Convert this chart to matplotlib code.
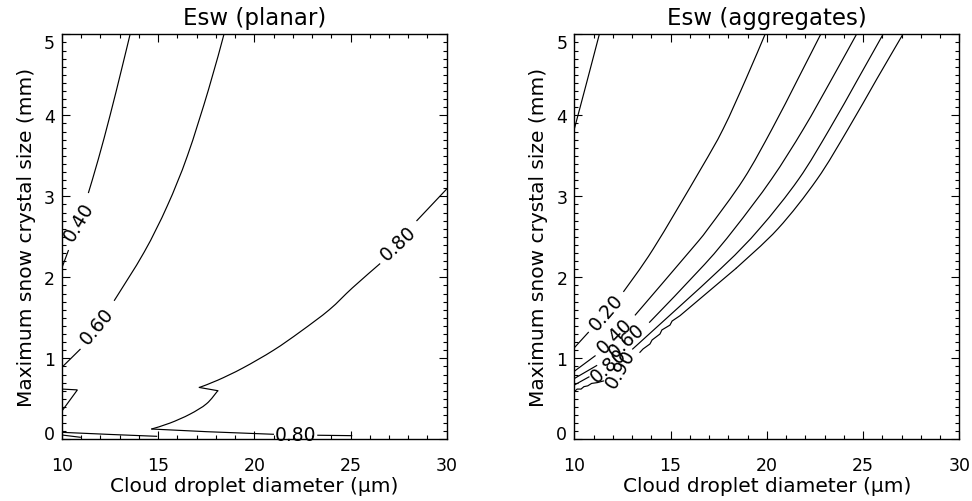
import matplotlib
matplotlib.use("Agg")
import matplotlib.pyplot as plt
from matplotlib.ticker import MultipleLocator
from matplotlib.path import Path
from matplotlib.patches import PathPatch

plt.rcParams['font.family'] = ['DejaVu Sans']

# ---------------- Left panel: Esw (planar) ----------------
planar_040_upper_x = [13.54, 13.10, 12.50, 11.89, 11.37]
planar_040_upper_y = [5.00, 4.57, 4.00, 3.46, 3.04]
planar_040_lower_x = [10.33, 10.00]
planar_040_lower_y = [2.33, 2.12]

planar_060_upper_x = [18.42, 17.62, 16.52, 15.47, 14.27, 12.71]
planar_060_upper_y = [5.00, 4.32, 3.50, 2.88, 2.31, 1.71]
planar_060_lower_x = [10.94, 10.00]
planar_060_lower_y = [1.11, 0.89]
planar_060_loop_x = [10.00, 10.80, 10.00]
planar_060_loop_y = [0.62, 0.61, 0.35]

planar_080_upper_x = [30.00, 28.45]
planar_080_upper_y = [3.09, 2.70]
planar_080_main_x = [26.54, 25.10, 23.90, 22.40, 21.00, 19.40, 18.10, 17.14]
planar_080_main_y = [2.17, 1.87, 1.60, 1.33, 1.10, 0.88, 0.73, 0.64]
planar_080_notch_x = [17.14, 18.10]
planar_080_notch_y = [0.64, 0.60]
planar_080_drop_x = [18.10, 17.52, 16.65, 15.61, 14.66]
planar_080_drop_y = [0.60, 0.44, 0.31, 0.20, 0.127]
planar_080_floor_x = [14.66, 17.52, 20.99]
planar_080_floor_y = [0.127, 0.094, 0.062]
planar_080_tail_x = [23.30, 25.06]
planar_080_tail_y = [0.050, 0.045]
planar_080_base_x = [10.00, 12.50, 14.92]
planar_080_base_y = [0.086, 0.060, 0.037]
planar_080_edge_x = [10.00, 10.95]
planar_080_edge_y = [0.053, 0.025]

planar_label_text = ["0.40", "0.60", "0.80", "0.80"]
planar_label_x = [10.85, 11.80, 27.49, 22.12]
planar_label_y = [2.69, 1.41, 2.42, 0.065]
planar_label_rot = [59, 50, 43, 0]

# ---------------- Right panel: Esw (aggregates) ----------------
agg_010_x = [11.30, 10.66, 10.00]
agg_010_y = [5.00, 4.42, 3.83]

agg_020_upper_x = [19.91, 18.92, 17.73, 16.53, 14.10, 12.55]
agg_020_upper_y = [5.00, 4.45, 3.83, 3.32, 2.35, 1.82]
agg_020_lower_x = [10.73, 10.00]
agg_020_lower_y = [1.32, 1.13]

agg_040_upper_x = [22.80, 21.62, 20.27, 18.79, 16.95, 16.10, 13.15]
agg_040_upper_y = [5.00, 4.45, 3.83, 3.21, 2.60, 2.35, 1.53]
agg_040_lower_x = [11.08, 10.00]
agg_040_lower_y = [1.03, 0.84]

agg_060_upper_x = [24.66, 23.38, 21.90, 20.24, 18.32, 16.77, 13.89]
agg_060_upper_y = [5.00, 4.45, 3.83, 3.21, 2.60, 2.16, 1.44]
agg_060_lower_x = [11.16, 10.00]
agg_060_lower_y = [0.91, 0.75]

agg_080_upper_x = [26.04, 24.74, 23.26, 21.65, 19.62, 17.62, 13.01]
agg_080_upper_y = [5.00, 4.45, 3.83, 3.21, 2.60, 2.11, 1.11]
agg_080_lower_x = [10.76, 10.00]
agg_080_lower_y = [0.77, 0.67]

agg_090_upper_x = [27.07, 25.72, 24.22, 22.61, 20.58, 18.40]
agg_090_upper_y = [5.00, 4.45, 3.83, 3.21, 2.60, 2.11]
agg_090_rough_x = [18.40, 15.49, 15.08, 14.97, 14.55, 14.45, 14.04, 13.93, 13.57, 13.41]
agg_090_rough_y = [2.11, 1.526, 1.46, 1.41, 1.35, 1.30, 1.226, 1.177, 1.115, 1.074]
agg_090_lower_x = [11.51, 11.20, 10.90, 10.70, 10.50, 10.35, 10.15, 10.00]
agg_090_lower_y = [0.72, 0.70, 0.69, 0.66, 0.65, 0.62, 0.62, 0.59]

agg_label_text = ["0.20", "0.40", "0.60", "0.80", "0.90"]
agg_label_x = [11.64, 12.11, 12.70, 11.77, 12.40]
agg_label_y = [1.57, 1.28, 1.22, 0.92, 0.88]
agg_label_rot = [49, 45, 42, 42, 60]

# (x, y, drawn as smooth curve?)
planar_segments = [
    (planar_040_upper_x, planar_040_upper_y, True),
    (planar_040_lower_x, planar_040_lower_y, False),
    (planar_060_upper_x, planar_060_upper_y, True),
    (planar_060_lower_x, planar_060_lower_y, False),
    (planar_060_loop_x, planar_060_loop_y, False),
    (planar_080_upper_x, planar_080_upper_y, False),
    (planar_080_main_x, planar_080_main_y, True),
    (planar_080_notch_x, planar_080_notch_y, False),
    (planar_080_drop_x, planar_080_drop_y, True),
    (planar_080_floor_x, planar_080_floor_y, False),
    (planar_080_tail_x, planar_080_tail_y, False),
    (planar_080_base_x, planar_080_base_y, False),
    (planar_080_edge_x, planar_080_edge_y, False),
]
agg_segments = [
    (agg_010_x, agg_010_y, True),
    (agg_020_upper_x, agg_020_upper_y, True), (agg_020_lower_x, agg_020_lower_y, False),
    (agg_040_upper_x, agg_040_upper_y, True), (agg_040_lower_x, agg_040_lower_y, False),
    (agg_060_upper_x, agg_060_upper_y, True), (agg_060_lower_x, agg_060_lower_y, False),
    (agg_080_upper_x, agg_080_upper_y, True), (agg_080_lower_x, agg_080_lower_y, False),
    (agg_090_upper_x, agg_090_upper_y, True), (agg_090_rough_x, agg_090_rough_y, False),
    (agg_090_lower_x, agg_090_lower_y, False),
]


def curve_path(xs, ys):
    """Catmull-Rom curve through the given points, as cubic Bezier path."""
    pts = list(zip(xs, ys))
    n = len(pts)
    verts = [pts[0]]
    codes = [Path.MOVETO]
    for i in range(n - 1):
        p0 = pts[i - 1] if i > 0 else pts[i]
        p1 = pts[i]
        p2 = pts[i + 1]
        p3 = pts[i + 2] if i + 2 < n else pts[i + 1]
        c1 = (p1[0] + (p2[0] - p0[0]) / 6.0, p1[1] + (p2[1] - p0[1]) / 6.0)
        c2 = (p2[0] - (p3[0] - p1[0]) / 6.0, p2[1] - (p3[1] - p1[1]) / 6.0)
        verts += [c1, c2, p2]
        codes += [Path.CURVE4] * 3
    return Path(verts, codes)


fig = plt.figure(figsize=(9.72, 5.02), dpi=100)
ax1 = fig.add_axes([62 / 972, 1 - 440.3 / 502, 384.7 / 972, 405 / 502])
ax2 = fig.add_axes([574.3 / 972, 1 - 440.3 / 502, 385 / 972, 405 / 502])

TICK_FS = 12.5
LABEL_FS = 14.5
CLABEL_FS = 13.5
LW = 0.85


def style_axes(ax, title):
    ax.set_xlim(10, 30)
    ax.set_ylim(0, 5)
    ax.xaxis.set_major_locator(MultipleLocator(5))
    ax.xaxis.set_minor_locator(MultipleLocator(1))
    ax.yaxis.set_major_locator(MultipleLocator(1))
    ax.yaxis.set_minor_locator(MultipleLocator(0.1))
    ax.tick_params(which='both', direction='in', top=True, right=True,
                   width=0.8, colors='black')
    ax.tick_params(which='major', length=5.8)
    ax.tick_params(which='minor', length=2.9)
    ax.tick_params(axis='x', which='major', pad=12, labelsize=TICK_FS)
    ax.tick_params(axis='y', which='major', pad=5, labelsize=TICK_FS)
    for s in ax.spines.values():
        s.set_linewidth(1.0)
    ax.set_title(title, fontsize=16.5, pad=7.2)
    ax.set_xlabel("Cloud droplet diameter (μm)", fontsize=LABEL_FS)
    ax.set_ylabel("Maximum snow crystal size (mm)", fontsize=LABEL_FS)
    ax.xaxis.label.set_va('baseline')
    ax.yaxis.label.set_va('baseline')
    ax.xaxis.set_label_coords(0.5, -0.128)
    ax.yaxis.set_label_coords(-0.079, 0.5)


for ax, segs, ltxt, lx, ly, lr, title in [
        (ax1, planar_segments, planar_label_text, planar_label_x, planar_label_y,
         planar_label_rot, "Esw (planar)"),
        (ax2, agg_segments, agg_label_text, agg_label_x, agg_label_y,
         agg_label_rot, "Esw (aggregates)")]:
    for xs, ys, smooth in segs:
        if smooth:
            ax.add_patch(PathPatch(curve_path(xs, ys), fill=False,
                                   edgecolor='black', linewidth=LW))
        else:
            ax.plot(xs, ys, color='black', linewidth=LW, solid_joinstyle='miter')
    for t, x, y, r in zip(ltxt, lx, ly, lr):
        ax.text(x, y, t, rotation=r, rotation_mode='anchor', ha='center',
                va='center', fontsize=CLABEL_FS, clip_on=False)
    style_axes(ax, title)

fig.canvas.draw()
for ax in (ax1, ax2):
    for lab in ax.get_yticklabels():
        txt = lab.get_text()
        if txt == "0":
            lab.set_va('baseline')
        elif txt == "5":
            lab.set_va('top')

fig.savefig("out.png", dpi=100)
